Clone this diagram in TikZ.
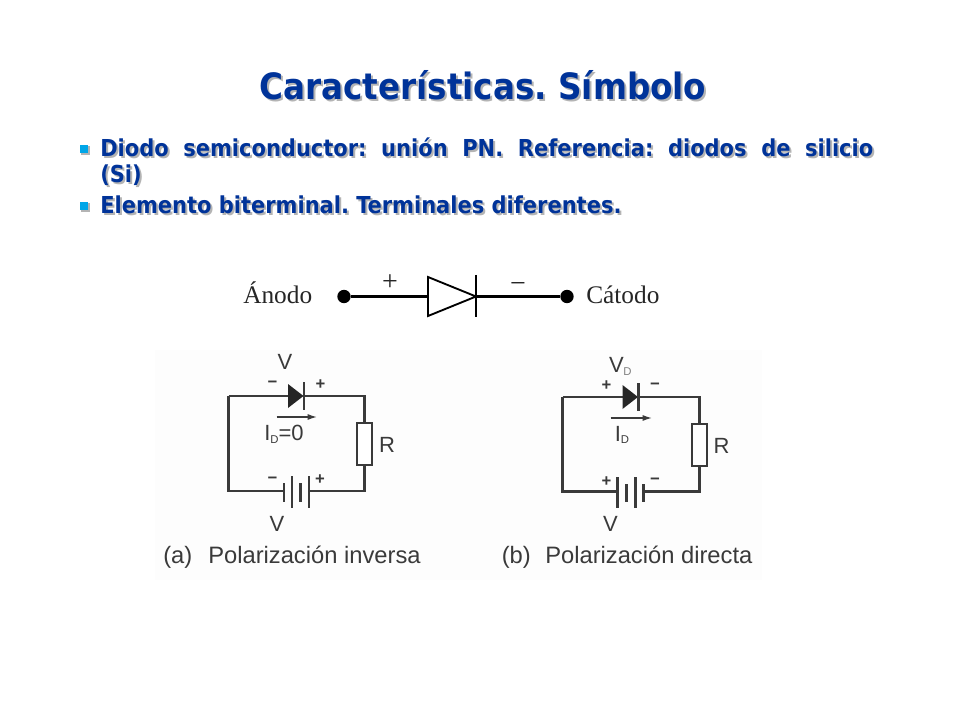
\documentclass[tikz,border=0pt]{standalone}
\usepackage{fontspec}
\setmainfont{Liberation Sans}
\newfontfamily\headfont{DejaVu Sans Condensed}
\newfontfamily\serifface{Liberation Serif}
\usetikzlibrary{arrows.meta}
\definecolor{headblue}{HTML}{003399}
\definecolor{shadowgray}{HTML}{B4B4B4}
\definecolor{bulletblue}{HTML}{00A6E8}
\definecolor{inkgray}{HTML}{3A3A3A}
\definecolor{patch}{HTML}{FDFDFD}
\newcommand{\shadowtext}[4]{%
  \node[anchor=base west,inner sep=0pt,text=shadowgray,font=#1] (#3s) at (#2) [xshift=1.5pt,yshift=-1.5pt] {#4};
  \node[anchor=base west,inner sep=0pt,text=headblue,font=#1] (#3) at (#2) {#4};}
\tikzset{
  x=0.75pt,y=-0.75pt,
  wire/.style={draw=black,line width=1.7pt},
  cwire/.style={draw=inkgray,line width=1.6pt},
  plate/.style={draw=inkgray,line width=1.8pt},
  termdot/.style={circle,fill=black,draw=none,minimum size=10pt,inner sep=0pt},
  resbox/.style={rectangle,draw=inkgray,fill=white,line width=1.6pt,minimum width=11pt,minimum height=31.5pt,inner sep=0pt},
  serlabel/.style={font=\serifface\fontsize{19}{20}\selectfont,text=black!85,inner sep=0pt,anchor=base west},
  clabel/.style={font=\fontsize{16.5}{18}\selectfont,text=inkgray,inner sep=0pt},
  sign/.style={font=\bfseries\fontsize{12.5}{14}\selectfont,text=inkgray,inner sep=0pt},
  caplabel/.style={font=\fontsize{17.8}{20}\selectfont,text=inkgray,inner sep=0pt,anchor=base west},
  currarrow/.style={draw=inkgray,line width=1pt,-{Latex[length=7pt,width=4.5pt]}},
  subd/.style={font=\fontsize{8.5}{9}\selectfont,text=gray,inner sep=0pt},
  bullet/.style={rectangle,fill=bulletblue,draw=none,minimum size=6.4pt,inner sep=0pt},
  bulletshadow/.style={rectangle,fill=shadowgray,draw=none,minimum size=6.4pt,inner sep=0pt}
}
\begin{document}
\begin{tikzpicture}
\frenchspacing
\useasboundingbox (0,0) rectangle (960,720);
\fill[white] (0,0) rectangle (960,720);
\fill[patch] (155,350) rectangle (762,580);

% Title and bullets
\def\headf{\headfont\bfseries\fontsize{27.2}{30}\selectfont}
\def\bodyf{\headfont\bfseries\fontsize{17.5}{20}\selectfont}
\shadowtext{\headf}{259,100}{title}{Características. Símbolo}
\node[bulletshadow] (b1s) at (85.5,150.5) {};
\node[bullet] (b1) at (84,149) {};
\shadowtext{\bodyf}{100,157}{line1}{\makebox[579.75pt][s]{Diodo semiconductor: unión PN. Referencia: diodos de silicio}}
\shadowtext{\bodyf}{100,183}{line2}{(Si)}
\node[bulletshadow] (b2s) at (85.5,207.5) {};
\node[bullet] (b2) at (84,206) {};
\shadowtext{\bodyf}{100,214}{line3}{Elemento biterminal. Terminales diferentes.}

% Diode symbol
\node[serlabel] (anodo) at (243,304) {Ánodo};
\node[serlabel] (catodo) at (586,304) {Cátodo};
\node[termdot] (an) at (344,296.5) {};
\node[termdot] (ca) at (567,296.5) {};
\coordinate (tl) at (428,296.5);
\coordinate (tt) at (428,277);
\coordinate (tb) at (428,316);
\coordinate (tp) at (476,296.5);
\coordinate (bt) at (476,275);
\coordinate (bb) at (476,317);
\draw[wire] (an) -- (tl);
\draw[wire] (tp) -- (ca);
\draw[wire,line width=1.4pt,line join=miter] (tt) -- (tp) -- (tb) -- cycle;
\draw[wire,line width=1.4pt] (bt) -- (bb);
\node[font=\serifface\fontsize{21}{22}\selectfont,inner sep=0pt,text=black!85] (plus) at (390,282.5) {+};
\node[font=\serifface\fontsize{21}{22}\selectfont,inner sep=0pt,text=black!85] (minus) at (518,288) {−};

% Circuit (a)
\coordinate (atl) at (228.5,396);
\coordinate (atr) at (364.5,396);
\coordinate (abl) at (228.5,491);
\coordinate (abr) at (364.5,491);
\coordinate (adl) at (288,396);
\coordinate (adt) at (288,384);
\coordinate (adb) at (288,408);
\coordinate (adp) at (303.5,396);
\coordinate (adbt) at (304,382);
\coordinate (adbb) at (304,410);
\node[resbox] (ar) at (364.5,444) {};
\draw[cwire,line width=1.9pt] (atl) -- (adl);
\fill[black!85] (adt) -- (adp) -- (adb) -- cycle;
\draw[plate] (adbt) -- (adbb);
\draw[cwire] (adp) -- (atr) -- (ar.north);
\coordinate (ap1) at (284,491);
\coordinate (ap4) at (309,491);
\draw[cwire] (ar.south) -- (abr) -- (ap4);
\draw[cwire] (atl) -- (abl) -- (ap1);
\draw[plate] (284,483) -- (284,502);
\draw[plate] (292,476) -- (292,508);
\draw[plate] (300.5,483) -- (300.5,502);
\draw[plate] (309,476) -- (309,508);
\node[clabel] (av1) at (285,362) {V};
\node[sign] (am1) at (272.5,384.5) {−};
\node[sign] (ap) at (320.5,385) {+};
\coordinate (aas) at (276.5,417);
\coordinate (aae) at (317,417);
\draw[currarrow] (aas) -- (aae);
\node[clabel] (aid) at (284,434) {I\raisebox{-2pt}{\fontsize{8.5}{9}\selectfont D}=0};
\node[clabel] (arl) at (387,444.5) {R};
\node[sign] (abm) at (272.5,480) {−};
\node[sign] (abp) at (320,480) {+};
\node[clabel] (av2) at (277,524) {V};
\node[caplabel] (acap) at (163,563) {(a)};
\node[caplabel] (acapt) at (208,563) {Polarización inversa};

% Circuit (b)
\coordinate (btl) at (562.5,397);
\coordinate (btr) at (699.5,397);
\coordinate (bbl) at (562.5,491.5);
\coordinate (bbr) at (699.5,491.5);
\coordinate (bdl) at (622.5,397);
\coordinate (bdt) at (622.5,385);
\coordinate (bdb) at (622.5,409);
\coordinate (bdp) at (638,397);
\coordinate (bdbt) at (638.5,383);
\coordinate (bdbb) at (638.5,411);
\node[resbox] (br) at (699.5,445) {};
\draw[cwire,line width=1.9pt] (btl) -- (bdl);
\fill[black!85] (bdt) -- (bdp) -- (bdb) -- cycle;
\draw[plate] (bdbt) -- (bdbb);
\draw[cwire] (bdp) -- (btr) -- (br.north);
\coordinate (bp1) at (617.5,491.5);
\coordinate (bp4) at (643.5,491.5);
\draw[cwire] (br.south) -- (bbr) -- (bp4);
\draw[cwire] (btl) -- (bbl) -- (bp1);
\draw[plate] (617.5,477) -- (617.5,508);
\draw[plate] (626.5,484) -- (626.5,502);
\draw[plate] (635.5,477) -- (635.5,508);
\draw[plate] (643.5,484) -- (643.5,502);
\node[clabel] (bv1) at (616.5,365) {V};
\node[subd] (bv1d) at (627.5,372) {D};
\node[sign] (bpl) at (606.5,386) {+};
\node[sign] (bmi) at (655,386) {−};
\coordinate (bas) at (610.5,418);
\coordinate (bae) at (652,418);
\draw[currarrow] (bas) -- (bae);
\node[clabel] (bid) at (622,435) {I\raisebox{-2pt}{\fontsize{8.5}{9}\selectfont D}};
\node[clabel] (brl) at (721.5,446) {R};
\node[sign] (bbp) at (606.5,481.5) {+};
\node[sign] (bbm) at (655,481.5) {−};
\node[clabel] (bv2) at (610.5,524) {V};
\node[caplabel] (bcap) at (501.5,563) {(b)};
\node[caplabel] (bcapt) at (545,563) {Polarización directa};
\end{tikzpicture}
\end{document}
